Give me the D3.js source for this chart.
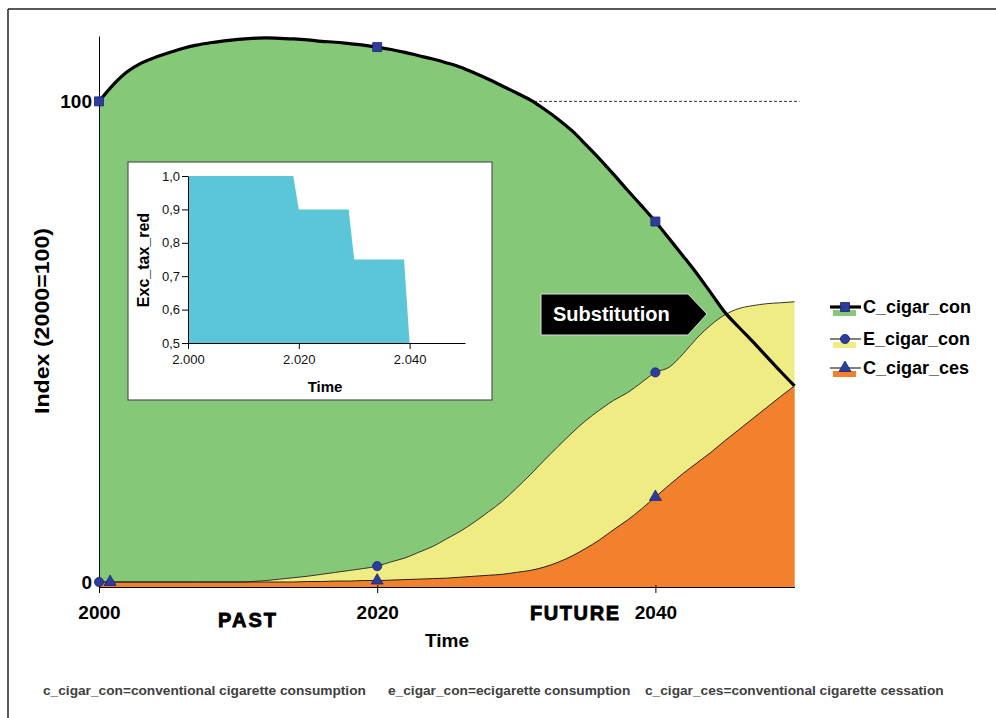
<!DOCTYPE html>
<html><head><meta charset="utf-8">
<script src="https://cdn.jsdelivr.net/npm/d3@7"></script>
<style>
body{margin:0;background:#fff}
svg{display:block}
text{font-family:Arial,'Liberation Sans',sans-serif}
</style>
</head><body>
<svg id="c" width="996" height="718"></svg>
<script>
// ---------- DATA ----------
const years = d3.range(2000, 2051);
const cCigarCon = [100,103.4,106.1,107.9,109.1,110.1,111.0,111.7,112.2,112.6,
  112.9,113.1,113.2,113.1,113.0,112.8,112.5,112.3,112.0,111.7,
  111.3,110.8,110.2,109.5,108.8,108.0,107.1,105.9,104.6,103.2,
  101.8,100.3,98.4,96.3,93.9,91.0,88.0,84.8,81.5,78.3,
  75.0,71.4,67.8,64.1,60.1,56.1,53.0,50.0,46.9,43.8,40.8];
const eCigarCon = [0,0,0,0,0,0,0,0,0,0,
  0,0.1,0.3,0.6,0.9,1.2,1.6,2.0,2.4,2.8,
  3.3,4.2,5.0,6.2,7.4,9.0,10.6,12.5,14.6,16.8,
  19.5,22.3,25.3,28.2,31.0,33.6,35.8,37.8,39.4,41.5,
  43.6,44.7,47.5,50.8,53.5,55.6,56.9,57.5,57.9,58.1,58.3];
const cCigarCes = [0,0,0,0,0,0,0,0,0,0,
  0,0,0,0,0,0.1,0.1,0.2,0.2,0.3,
  0.3,0.4,0.5,0.6,0.7,0.8,1.0,1.2,1.4,1.6,
  2.0,2.4,3.1,4.1,5.4,7.0,8.8,10.9,12.9,15.2,
  17.7,20.2,22.6,24.8,27.0,29.4,31.7,34.0,36.3,38.6,40.8];
const conMarkerYears = [2000, 2020, 2040];
const eMarkerYears = [2000, 2020, 2040];
const cesMarkerYears = [2000.8, 2020, 2040];
const xTickValues = [2000, 2020, 2040];
const yTickValues = [0, 100];
const seriesNames = ["C_cigar_con", "E_cigar_con", "C_cigar_ces"];
// inset: Exc_tax_red
const insetYears = [2000, 2019, 2020, 2029, 2030, 2039, 2040];
const excTaxRed = [1.0, 1.0, 0.9, 0.9, 0.75, 0.75, 0.5];
const insetXTicks = [2000, 2020, 2040];
const insetYTicks = [0.5, 0.6, 0.7, 0.8, 0.9, 1.0];
const footnotes = ["c_cigar_con=conventional cigarette consumption",
  "e_cigar_con=ecigarette consumption",
  "c_cigar_ces=conventional cigarette cessation"];

// ---------- STYLE ----------
const GREEN = "#84c878", YELLOW = "#f0ec84", ORANGE = "#f2802c";
const MARK = "#2e3c9c", MARKSTROKE = "#1b2470", CYAN = "#5ac6d8";

const svg = d3.select("#c");
// frame
svg.append("line").attr("x1", 8).attr("y1", 9).attr("x2", 996).attr("y2", 9).attr("stroke", "#222").attr("stroke-width", 1.5);
svg.append("line").attr("x1", 8).attr("y1", 9).attr("x2", 8).attr("y2", 718).attr("stroke", "#222").attr("stroke-width", 1.5);

const x = d3.scaleLinear().domain([2000, 2050]).range([99, 794.5]);
const y = d3.scaleLinear().domain([-1.04, 113.6]).range([587, 36]);
const base = y.range()[0];

// dashed reference at 100
svg.append("line").attr("x1", x(2000)).attr("x2", x(2050) + 5)
  .attr("y1", y(100)).attr("y2", y(100))
  .attr("stroke", "#333").attr("stroke-width", 1).attr("stroke-dasharray", "3,2");

const rows = years.map((yr, i) => ({yr, c: cCigarCon[i], e: eCigarCon[i], s: cCigarCes[i]}));
const area = key => d3.area().x(d => x(d.yr)).y0(base).y1(d => y(d[key])).curve(d3.curveMonotoneX);
const line = key => d3.line().x(d => x(d.yr)).y(d => y(d[key])).curve(d3.curveMonotoneX);

svg.append("path").datum(rows).attr("d", area("c")).attr("fill", GREEN);
svg.append("path").datum(rows).attr("d", area("e")).attr("fill", YELLOW);
svg.append("path").datum(rows).attr("d", area("s")).attr("fill", ORANGE);
svg.append("path").datum(rows).attr("d", line("e")).attr("fill", "none").attr("stroke", "#333").attr("stroke-width", 1);
svg.append("path").datum(rows).attr("d", line("s")).attr("fill", "none").attr("stroke", "#222").attr("stroke-width", 1);
svg.append("path").datum(rows).attr("d", line("c")).attr("fill", "none").attr("stroke", "#000").attr("stroke-width", 3.2);

// axes
const xAxis = svg.append("g").attr("transform", `translate(0,${base})`)
  .call(d3.axisBottom(x).tickValues(xTickValues).tickFormat(d3.format("d")).tickSize(6).tickSizeOuter(0));
xAxis.select(".domain").attr("stroke", "#000");
xAxis.selectAll(".tick line").attr("y1", -2).attr("y2", 6).attr("stroke", "#000");
xAxis.selectAll(".tick text").attr("y", 25).attr("dy", "0.35em")
  .attr("font-size", 19).attr("font-weight", "bold").attr("fill", "#000").attr("font-family", "Arial,'Liberation Sans',sans-serif");

const yAxis = svg.append("g").attr("transform", `translate(${x(2000)},0)`)
  .call(d3.axisLeft(y).tickValues(yTickValues).tickFormat(d3.format("d")).tickSize(0).tickSizeOuter(0).tickPadding(7));
yAxis.select(".domain").attr("stroke", "#000");
yAxis.selectAll(".tick text").attr("font-size", 19).attr("font-weight", "bold").attr("fill", "#000")
  .attr("font-family", "Arial,'Liberation Sans',sans-serif");

// markers
const valAt = (arr, yr) => arr[Math.round(yr - 2000)];
const sq = d3.symbol(d3.symbolSquare, 81)();
const ci = d3.symbol(d3.symbolCircle, 66)();
const tr = d3.symbol(d3.symbolTriangle, 62)();
function markers(yrs, arr, path) {
  svg.append("g").selectAll("path").data(yrs).join("path")
    .attr("d", path).attr("transform", d => `translate(${x(d)},${y(valAt(arr, d))})`)
    .attr("fill", MARK).attr("stroke", MARKSTROKE).attr("stroke-width", 0.8);
}
markers(conMarkerYears, cCigarCon, sq);
markers(eMarkerYears, eCigarCon, ci);
markers(cesMarkerYears, cCigarCes, tr);

// labels
svg.append("text").attr("x", 42).attr("y", 321).attr("transform", "rotate(-90,42,321)")
  .attr("text-anchor", "middle").attr("dy", "0.35em").attr("font-size", 21).attr("font-weight", "bold")
  .attr("textLength", 186).attr("lengthAdjust", "spacingAndGlyphs")
  .text("Index (2000=100)");
svg.append("text").attr("x", 447).attr("y", 640).attr("text-anchor", "middle").attr("dy", "0.35em")
  .attr("font-size", 19).attr("font-weight", "bold").text("Time");
svg.append("text").attr("x", 218).attr("y", 620).attr("dy", "0.35em").attr("font-size", 20)
  .attr("font-weight", "bold").attr("stroke", "#000").attr("stroke-width", 0.8)
  .attr("textLength", 58).attr("lengthAdjust", "spacing").text("PAST");
svg.append("text").attr("x", 530).attr("y", 613).attr("dy", "0.35em").attr("font-size", 20)
  .attr("font-weight", "bold").attr("stroke", "#000").attr("stroke-width", 0.8)
  .attr("textLength", 89).attr("lengthAdjust", "spacing").text("FUTURE");

// Substitution arrow
svg.append("polygon").attr("points", "541,294 688,294 707,314 688,335 541,335")
  .attr("fill", "#000").attr("stroke", "#ddd").attr("stroke-width", 1);
svg.append("text").attr("x", 553).attr("y", 314).attr("dy", "0.35em").attr("font-size", 20)
  .attr("font-weight", "bold").attr("fill", "#fff").text("Substitution");

// inset
const inset = svg.append("g");
inset.append("rect").attr("x", 128).attr("y", 162).attr("width", 364).attr("height", 238)
  .attr("fill", "#fff").attr("stroke", "#555").attr("stroke-width", 1.2);
const xi = d3.scaleLinear().domain([2000, 2050]).range([188, 465]);
const yi = d3.scaleLinear().domain([0.5, 1.0]).range([343, 176]);
const insetRows = insetYears.map((yr, i) => ({yr, v: excTaxRed[i]}));
inset.append("path").datum(insetRows)
  .attr("d", d3.area().x(d => xi(d.yr)).y0(yi(0.5)).y1(d => yi(d.v)))
  .attr("fill", CYAN);
const ixa = inset.append("g").attr("transform", `translate(0,${yi(0.5)})`)
  .call(d3.axisBottom(xi).tickValues(insetXTicks).tickFormat(d => (d / 1000).toFixed(3)).tickSize(6).tickSizeOuter(0));
ixa.selectAll("text").attr("font-size", 13).attr("fill", "#111").attr("font-family", "Arial,'Liberation Sans',sans-serif").attr("y", 12);
ixa.selectAll("line,.domain").attr("stroke", "#000");
const iya = inset.append("g").attr("transform", `translate(${xi(2000)},0)`)
  .call(d3.axisLeft(yi).tickValues(insetYTicks).tickFormat(d => d.toFixed(1).replace(".", ",")).tickSize(6).tickSizeOuter(0).tickPadding(2));
iya.selectAll("text").attr("font-size", 13).attr("fill", "#111").attr("font-family", "Arial,'Liberation Sans',sans-serif");
iya.selectAll("line,.domain").attr("stroke", "#000");
inset.append("text").attr("x", 325).attr("y", 387).attr("text-anchor", "middle").attr("dy", "0.35em")
  .attr("font-size", 15).attr("font-weight", "bold").text("Time");
inset.append("text").attr("x", 143).attr("y", 260).attr("transform", "rotate(-90,143,260)")
  .attr("text-anchor", "middle").attr("dy", "0.35em").attr("font-size", 16).attr("font-weight", "bold").text("Exc_tax_red");

// legend
const legendRows = [
  {name: seriesNames[0], ly: 307, fill: GREEN, sym: sq, sw: 3.2},
  {name: seriesNames[1], ly: 339, fill: YELLOW, sym: ci, sw: 1},
  {name: seriesNames[2], ly: 368, fill: ORANGE, sym: tr, sw: 1}
];
const lg = svg.append("g").selectAll("g").data(legendRows).join("g");
lg.append("rect").attr("x", 833).attr("y", d => d.ly + 3).attr("width", 23).attr("height", 6).attr("fill", d => d.fill);
lg.append("line").attr("x1", 830).attr("x2", 861).attr("y1", d => d.ly).attr("y2", d => d.ly)
  .attr("stroke", "#000").attr("stroke-width", d => d.sw);
lg.append("path").attr("d", d => d.sym).attr("transform", d => `translate(845,${d.ly})`)
  .attr("fill", MARK).attr("stroke", MARKSTROKE).attr("stroke-width", 0.8);
lg.append("text").attr("x", 863).attr("y", d => d.ly).attr("dy", "0.35em")
  .attr("font-size", 18).attr("font-weight", "bold").text(d => d.name);

// footnotes
const fnX = [43, 388, 645];
svg.append("g").selectAll("text").data(footnotes).join("text")
  .attr("x", (d, i) => fnX[i]).attr("y", 690).attr("dy", "0.35em")
  .attr("font-size", 13.7).attr("font-weight", "bold").attr("fill", "#404040").text(d => d);
</script>
</body></html>
